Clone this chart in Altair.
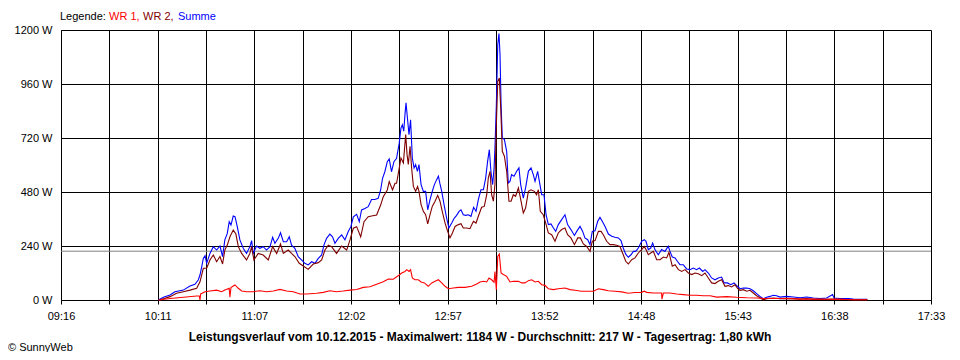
import altair as alt
import numpy as np
import pandas as pd

# ---------------- data (time = minutes since midnight, power in W) ----------------
summe_t = [
    611.6, 614.5, 618.3, 621.1, 625.9, 629.7, 632.5, 634.4, 635.4, 636.4,
    637.3, 638.3, 639.2, 641.1, 643.0, 644.9, 646.8, 648.3, 649.6, 651.0,
    652.1, 653.1, 654.4, 655.4, 656.7, 658.2, 660.1, 662.0, 663.9, 664.9,
    665.8, 667.7, 669.6, 671.5, 673.4, 675.4, 676.9, 678.2, 680.1, 681.4,
    683.0, 684.9, 686.4, 687.7, 689.6, 691.5, 693.4, 695.3, 697.2, 699.2,
    701.1, 703.0, 704.9, 706.2, 707.7, 709.6, 711.1, 712.5, 714.4, 716.3,
    718.2, 720.1, 721.6, 723.0, 724.9, 726.4, 727.7, 729.6, 731.5, 733.4,
    735.3, 737.2, 738.6, 739.7, 741.0, 742.4, 743.5, 744.8, 746.2, 747.7,
    749.2,
    750.2, 751.0, 751.8, 752.5, 753.1, 753.9, 754.8, 755.7, 756.7, 757.7,
    758.6, 759.6, 760.5, 761.7, 763.0, 764.3, 765.5, 766.8, 768.1, 769.3,
    770.6, 771.6, 772.5, 773.5, 775.0, 776.3, 777.6, 779.2, 780.7, 782.0,
    783.4, 784.5, 785.8, 787.2, 788.7, 790.2, 791.7, 793.1, 794.4, 795.9,
    797.3, 798.6, 799.7, 800.7, 801.6, 802.6, 803.4, 803.9, 804.7, 805.5,
    806.2, 806.8, 807.4, 808.1, 809.3, 810.6, 811.5, 812.5, 813.4, 814.8,
    816.3, 817.6, 818.6, 820.1, 821.4, 823.0, 824.5, 825.8, 826.8, 828.3,
    829.6, 830.6, 831.9, 833.1, 834.4, 835.9, 837.3, 838.6, 840.1, 842.0,
    843.9, 845.4, 847.3, 849.3, 850.6, 852.5, 854.0, 855.3, 856.9, 858.2,
    859.5, 861.1, 862.6, 863.9, 865.2, 866.8, 868.7, 870.6, 872.5, 874.4,
    875.9, 877.2, 878.6, 880.1, 881.6, 883.0, 884.3, 885.8, 887.7, 889.2,
    890.2, 891.5, 892.9, 894.0, 895.3, 897.2, 899.1, 901.0, 902.9, 903.9,
    905.2, 906.8, 908.1, 909.6, 911.5, 913.4, 915.3, 917.2, 919.1, 920.7,
    922.6, 923.9, 925.8, 927.7, 929.6, 931.5, 933.4, 934.8, 936.7, 938.6,
    940.5, 942.4, 943.9, 945.8, 947.7, 949.6, 951.5, 953.4, 955.3, 957.2,
    959.1, 961.0, 962.9, 964.8, 966.7, 970.5, 974.4, 978.2, 982.0, 985.8,
    989.6, 993.4, 996.8, 997.6, 1001.0, 1005.8, 1008.6, 1012.4, 1016.6,
]
summe_v = [
    0, 12, 22, 37, 44, 62, 70, 89, 111, 148,
    185, 197, 163, 207, 237, 222, 240, 193, 267, 296,
    348, 333, 373, 370, 326, 267, 230, 207, 237, 264,
    207, 240, 230, 237, 222, 237, 279, 252, 274, 299,
    259, 259, 281, 244, 230, 193, 178, 163, 156, 170,
    163, 185, 200, 244, 274, 293, 281, 252, 274, 289,
    267, 304, 326, 370, 381, 348, 400, 407, 415, 447,
    447, 452, 489, 541, 570, 615, 627, 570, 615, 630,
    696,
    764, 779, 750, 824, 876, 809, 735, 801, 631, 587,
    602, 572, 602, 513, 483, 483, 401, 446, 483, 513,
    535, 550, 516, 483, 416, 364, 320, 342, 364, 376,
    394, 401, 379, 376, 379, 372, 412, 394, 446, 490,
    490, 542, 616, 668, 572, 513, 587, 676, 868, 1135,
    1184, 1090, 868, 720, 713, 661, 520, 527, 557, 550,
    572, 587, 513, 453, 498, 572, 587, 557, 527, 572,
    513, 468, 468, 379, 335, 338, 320, 305, 335, 357,
    379, 335, 313, 287, 305, 327, 305, 276, 268, 246,
    305, 308, 350, 367, 350, 327, 293, 283, 279, 276,
    264, 231, 204, 190, 201, 216, 216, 231, 261, 268,
    261, 224, 231, 253, 224, 201, 224, 216, 239, 216,
    191, 187, 172, 157, 157, 138, 135, 142, 135, 142,
    127, 135, 120, 98, 90, 98, 102, 76, 76, 68,
    76, 61, 50, 53, 53, 50, 41, 28, 16, 6,
    12, 16, 21, 19, 13, 16, 13, 10, 13, 9,
    7, 9, 24, 9, 7, 7, 4, 3, 3,
]

wr1_t = [
    611.6, 618.3, 625.9, 633.5, 635.0, 635.4, 635.8, 638.3, 641.1, 644.9,
    647.8, 649.6, 652.1, 652.5, 653.1, 654.4, 655.4, 657.3, 659.2, 662.0,
    665.8, 669.6, 673.4, 677.3, 681.1, 684.9, 688.7, 692.5, 696.3, 702.0,
    705.8, 709.6, 713.4, 717.2, 721.1, 724.9, 728.7, 732.5, 736.3, 740.1,
    743.0, 745.8, 749.2,
    750.6, 752.5, 753.5, 754.8, 755.7, 756.7, 758.2, 760.1, 761.7, 763.6,
    765.8, 767.8, 769.7, 771.6, 773.5, 775.4, 777.3, 780.1, 783.0, 786.8,
    790.6, 793.5, 795.4, 797.3, 799.2, 800.5, 802.0, 803.4, 803.9, 804.7,
    805.5, 806.4, 807.4, 808.7, 810.6, 812.5, 814.4, 817.3, 819.2, 821.1,
    823.0, 824.9, 826.8, 828.7, 830.6, 832.5, 834.4, 837.3, 840.1, 843.9,
    846.8, 849.6, 853.4, 857.2, 860.1, 863.0, 865.8, 868.7, 872.5, 876.3,
    880.1, 883.9, 887.7, 889.2,
    890.6, 894.4, 898.2, 899.1, 899.3, 900.1, 903.9, 907.7, 911.5, 915.3,
    919.1, 922.9, 926.8, 930.6, 936.3, 942.0, 947.7, 953.4, 957.2, 961.0,
    966.7, 972.5, 978.2, 985.8, 993.4, 1001.0, 1008.6, 1016.6,
]
wr1_v = [
    0, 7, 12, 18, 18, 0, 27, 37, 40, 44,
    37, 44, 52, 12, 55, 62, 67, 52, 40, 37,
    37, 41, 37, 40, 47, 40, 37, 27, 27, 30,
    34, 41, 37, 40, 44, 47, 56, 59, 70, 81,
    93, 92, 111,
    120, 127, 135, 127, 135, 98, 90, 90, 80, 76,
    61, 76, 83, 90, 76, 61, 50, 53, 56, 56,
    61, 71, 80, 83, 80, 98, 90, 79, 127, 46,
    194, 204, 120, 113, 105, 80, 83, 83, 76, 76,
    86, 90, 80, 83, 68, 65, 50, 46, 50, 53,
    46, 43, 39, 39, 39, 50, 46, 41, 39, 36,
    30, 33, 34, 39,
    34, 31, 31, 31, 4, 31, 31, 27, 24, 21,
    21, 19, 19, 13, 15, 12, 10, 9, 7, 7,
    7, 6, 4, 4, 3, 3, 1, 1,
]

wr2_t = [
    612.5, 618.3, 622.0, 625.9, 629.7, 633.5, 635.4, 637.3, 639.2, 641.1,
    643.0, 644.9, 646.8, 648.3, 649.6, 651.0, 652.5, 654.4, 655.9, 657.3,
    659.2, 662.0, 663.9, 664.9, 666.2, 668.7, 671.5, 674.4, 676.9, 679.2,
    681.4, 683.0, 685.8, 687.7, 689.6, 692.1, 694.4, 697.2, 700.1, 703.0,
    704.9, 706.8, 708.7, 710.6, 713.4, 716.3, 719.2, 721.1, 723.0, 724.9,
    727.2, 729.1, 731.5, 733.4, 736.3, 738.6, 740.1, 742.4, 743.5, 745.4,
    746.8, 747.7, 749.2,
    750.2, 751.6, 752.9, 753.7, 754.4, 755.4, 756.3, 757.3, 758.6, 759.7,
    760.5, 761.7, 763.0, 764.3, 765.5, 766.8, 768.1, 769.7, 771.2, 772.5,
    773.8, 775.4, 776.9, 778.2, 779.6, 781.1, 783.0, 784.5, 785.8, 787.7,
    789.6, 791.6, 793.1, 794.4, 796.3, 797.8, 799.2, 800.1, 801.1, 802.0,
    803.0, 803.9, 804.7, 805.5, 806.4, 807.2, 808.1, 809.3, 810.6, 811.9,
    813.1, 814.4, 815.7, 817.3, 818.8, 820.1, 821.4, 823.0, 824.5, 826.4,
    827.7, 828.7, 829.8, 831.5, 832.9, 834.4, 836.3, 838.2, 840.1, 842.0,
    843.9, 845.4, 847.3, 849.3, 851.2, 852.7, 854.4, 856.3, 858.2, 859.5,
    861.1, 863.0, 864.5, 865.8, 867.7, 869.6, 871.5, 873.4, 875.3, 877.2,
    878.6, 880.1, 882.0, 883.9, 885.8, 887.7, 889.2,
    890.2, 891.5, 892.9, 894.4, 896.3, 898.2, 900.1, 902.0, 903.3, 904.3,
    905.2, 906.8, 908.7, 910.6, 912.5, 914.4, 916.3, 918.2, 920.1, 922.0,
    923.9, 925.8, 927.7, 929.6, 931.5, 933.4, 935.3, 937.2, 939.1, 941.0,
    942.4, 943.9, 945.8, 947.7, 949.6, 951.5, 953.4, 955.3, 957.2, 959.1,
    962.9, 966.7, 970.5, 974.4, 978.2, 982.0, 985.8, 993.4, 997.2, 1001.0,
    1008.6, 1016.6,
]
wr2_v = [
    0, 15, 30, 37, 44, 52, 81, 141, 141, 178,
    200, 170, 193, 160, 222, 244, 281, 311, 293, 237,
    207, 178, 207, 237, 178, 207, 200, 178, 237, 207,
    249, 207, 222, 207, 193, 163, 151, 136, 160, 166,
    178, 222, 244, 237, 207, 240, 222, 267, 319, 326,
    281, 348, 370, 373, 378, 422, 459, 489, 526, 489,
    519, 519, 585,
    631, 609, 735, 646, 602, 683, 587, 505, 483, 505,
    483, 424, 394, 379, 338, 379, 416, 439, 465, 439,
    394, 342, 305, 276, 298, 327, 335, 339, 320, 320,
    317, 350, 342, 372, 412, 416, 468, 542, 572, 468,
    439, 513, 779, 972, 987, 853, 661, 639, 572, 439,
    439, 468, 461, 498, 439, 387, 409, 483, 490, 483,
    468, 490, 394, 379, 342, 298, 290, 261, 298, 313,
    320, 290, 276, 246, 276, 276, 249, 238, 216, 261,
    264, 305, 305, 290, 261, 246, 246, 243, 238, 201,
    172, 160, 179, 187, 209, 224, 238,
    224, 201, 209, 216, 179, 179, 191, 187, 212, 179,
    150, 157, 135, 127, 135, 120, 113, 120, 117, 108,
    120, 98, 76, 73, 83, 90, 61, 64, 58, 68,
    53, 43, 46, 39, 43, 31, 19, 10, 1, 6,
    9, 6, 7, 6, 4, 6, 3, 3, 4, 3,
    1, 1,
]

tick_labels = ["09:16", "10:11", "11:07", "12:02", "12:57",
               "13:52", "14:48", "15:43", "16:38", "17:33"]
x_start, x_end = 556, 1053          # 09:16 .. 17:33 in minutes
y_ticks = [0, 240, 480, 720, 960, 1200]
average_w = 217
max_w = 1184
yield_kwh = "1,80"
date_str = "10.12.2015"

series_names = ["WR 1", "WR 2", "Summe"]
series_colors = ["#ff0000", "#800000", "#0000ff"]

# ---------------- chart ----------------
FONT = "Liberation Sans"

n_grid = 2 * (len(tick_labels) - 1) + 1
grid_vals = list(np.linspace(x_start, x_end, n_grid))
step = (x_end - x_start) / (n_grid - 1)
lab19 = [tick_labels[i // 2] if i % 2 == 0 else "" for i in range(n_grid)]
label_expr = "[" + ",".join(f"'{l}'" for l in lab19) + f"][round((datum.value-{x_start})/{step})]"

x_enc = alt.X(
    "t:Q",
    scale=alt.Scale(domain=[x_start, x_end], nice=False, zero=False),
    axis=alt.Axis(
        values=grid_vals, labelExpr=label_expr, title=None,
        grid=True, gridColor="black", gridOpacity=1, gridWidth=1,
        domainColor="black", tickColor="black", tickSize=4,
        labelFont=FONT, labelFontSize=11, labelColor="black",
        labelPadding=6, labelFlush=False, labelOverlap=False, labelAngle=0,
    ),
)
y_enc = alt.Y(
    "w:Q",
    scale=alt.Scale(domain=[0, 1200], nice=False),
    axis=alt.Axis(
        values=y_ticks, labelExpr="datum.value + ' W'", title=None,
        grid=True, gridColor="black", gridOpacity=1, gridWidth=1,
        domainColor="black", ticks=False, tickSize=0,
        labelFont=FONT, labelFontSize=11, labelColor="black",
        labelPadding=9, labelOverlap=False,
    ),
)


def series_layer(t, v, color):
    df = pd.DataFrame({"t": t, "w": v})
    return alt.Chart(df).mark_line(color=color, strokeWidth=1.1, interpolate="linear").encode(
        x=x_enc, y=y_enc
    )


avg_layer = alt.Chart(pd.DataFrame({"w": [average_w]})).mark_rule(
    color="#808080", strokeWidth=1
).encode(y=alt.Y("w:Q"))


def text_layer(txt, x, y, color="black", bold=False, align="left", size=11):
    return alt.Chart(pd.DataFrame({"txt": [txt]})).mark_text(
        font=FONT, fontSize=size, color=color, align=align, baseline="middle",
        fontWeight="bold" if bold else "normal",
    ).encode(x=alt.value(x), y=alt.value(y), text="txt:N")


footer = (f"Leistungsverlauf vom {date_str} - Maximalwert: {max_w} W - "
          f"Durchschnitt: {average_w} W - Tagesertrag: {yield_kwh} kWh")

chart = alt.layer(
    avg_layer,
    series_layer(summe_t, summe_v, series_colors[2]),
    series_layer(wr2_t, wr2_v, series_colors[1]),
    series_layer(wr1_t, wr1_v, series_colors[0]),
    text_layer("Legende:", -1, -13),
    text_layer(series_names[0] + ",", 48, -13, series_colors[0]),
    text_layer(series_names[1] + ",", 82, -13, series_colors[1]),
    text_layer(series_names[2], 117, -13, series_colors[2]),
    text_layer(footer, 419, 307, bold=True, align="center", size=12),
    text_layer("© SunnyWeb", -53, 318),
).properties(
    width=870, height=270,
    padding={"left": 53, "top": 22, "right": 21, "bottom": 52},
    autosize=alt.AutoSizeParams(type="none"),
    background="white",
).configure_view(stroke=None)

chart.save("out.html", embed_options={"renderer": "svg", "actions": False})
